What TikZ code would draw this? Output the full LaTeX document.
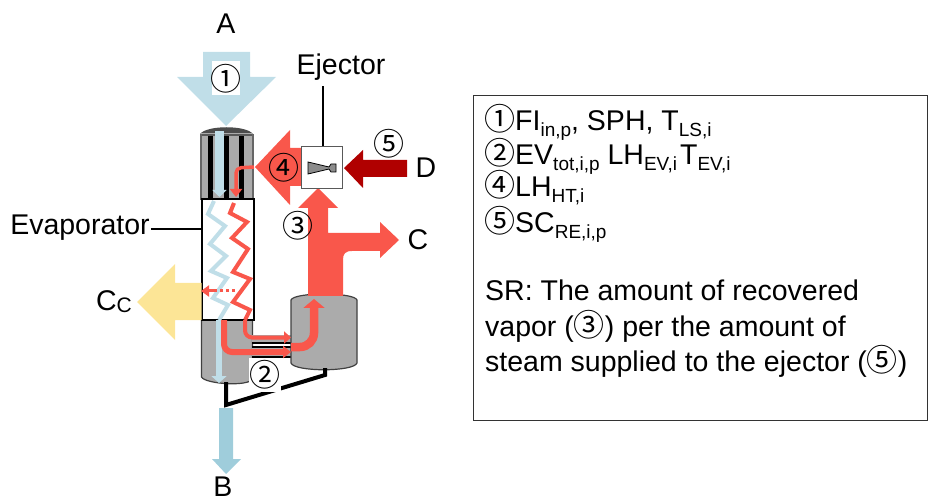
\documentclass[tikz,border=0pt]{standalone}
\usepackage{fontspec}
\setmainfont{Liberation Sans}
\newfontfamily\circfont{Noto Sans CJK JP}
\usetikzlibrary{arrows.meta}
\definecolor{redf}{HTML}{F9574B}
\definecolor{darkr}{HTML}{B00000}
\definecolor{lblue}{HTML}{C0DEE8}
\definecolor{mblue}{HTML}{9FCDDB}
\definecolor{yell}{HTML}{FCE596}
\definecolor{vgray}{HTML}{ABABAB}
\newcommand{\ci}[1]{{\circfont\fontsize{31}{31}\selectfont #1}}
\newcommand{\lowsub}[1]{\raisebox{-5.5pt}{\fontsize{19}{19}\selectfont #1}}
\tikzset{
 lab/.style={font=\fontsize{28.5}{28.5}\selectfont,inner sep=0pt},
 txt/.style={font=\fontsize{28.5}{28.5}\selectfont,inner sep=0pt,anchor=base west},
 num/.style={inner sep=0pt},
 vessel/.style={fill=vgray,draw=black!75,line width=1.2pt},
 zig/.style={line width=4pt,line join=miter},
 blackpipe/.style={line width=4pt,black},
}
\begin{document}
\begin{tikzpicture}[x=1pt,y=-1pt]
\useasboundingbox (0,0) rectangle (928,502);
% info box
\draw[line width=1pt,black!80] (473,96) rectangle (927.5,420);
% A arrow
\fill[lblue] (203,52)--(250,52)--(250,77)--(276,77)--(226,126)--(177,77)--(203,77)--cycle;
\node[num,fill=white,minimum width=28pt,minimum height=34pt] (n1) at (226,78) {};
\node[num] (n1t) at (226,79) {\ci{①}};
\node[lab] (A) at (226,24) {A};
% evaporator top
\fill[black!70] (200,134) .. controls (207,125) and (246,125) .. (253,134) -- cycle;
\fill[vgray] (201,133) rectangle (253,200);
\fill[black!65] (200,134) rectangle (253,136);
\fill[black!60] (200,134) rectangle (202,200);
\fill[black!60] (252,134) rectangle (254,200);
\foreach \x in {208,224,239}{\fill[black] (\x,136) rectangle +(5,64);}
% lower drum
\draw[vessel] (201.5,320) -- (201.5,377) .. controls (205,384) and (248,387) .. (252.5,379) -- (252.5,320) -- cycle;
% evaporator body
\node[draw=black,line width=1.2pt,fill=white,minimum width=52pt,minimum height=121pt,inner sep=0pt] (evap) at (228,259.5) {};
% Cc arrow
\fill[yell] (201.5,283)--(175,283)--(175,264)--(137,302)--(175,340)--(175,320)--(201.5,320)--cycle;
\node[lab] (Cc) at (114,302) {C{\fontsize{21}{21}\selectfont\raisebox{-2pt}{C}}};
% pipes
\fill[vgray] (252,335) rectangle (292,342);
\fill[vgray] (252,347.5) rectangle (292,356);
\fill[black] (252,342) rectangle (292,343.5);
\fill[black] (252,346) rectangle (292,347.5);
\fill[black] (252,356) rectangle (292,357.5);
% right vessel
\draw[vessel] (291,300) .. controls (294,292) and (354,292) .. (357,300) -- (357,363) .. controls (354,372) and (294,372) .. (291,363) -- cycle;
% red main
\fill[redf] (318,188)--(338,208)--(328,208)--(328,233)--(380,233)--(380,222)--(399,240)--(380,258)--(380,251)--(352,251).. controls (345,251) and (343,254) .. (343,260) --(343,296)--(308,296)--(308,208)--(298,208)--cycle;
% arrow 4
\fill[redf] (255,167)--(290,130)--(290,148)--(303,148)--(303,186)--(290,186)--(290,205)--cycle;
% ejector
\node[draw=black!65,line width=1.5pt,fill=white,minimum width=41pt,minimum height=42pt,inner sep=0pt] (ej) at (322,167.5) {};
\draw[fill=black!45,line width=.8pt] (308,162)--(329,167)--(331,164)--(336,164)--(336,172)--(331,172)--(329,169)--(308,174)--cycle;
% D arrow
\fill[darkr] (344,168)--(363,150)--(363,160)--(407,160)--(407,177)--(363,177)--(363,188)--cycle;
% zigzags
\draw[lblue,zig] (214,201)--(208,214)--(225,226)--(210,244)--(226,256)--(211,271)--(227,278)--(213,298)--(228,305)--(219,320);
\draw[redf,zig] (234,203)--(230,213)--(247,222)--(232,238)--(248,249)--(233,272)--(250,279)--(233,302)--(250,310)--(245,320);
% blue arrows down
\draw[lblue,line width=9pt,-{Triangle[length=7pt,width=14pt]}] (219.5,131) -- (219.5,197);
\draw[lblue,line width=6pt,-{Triangle[length=7pt,width=15pt]}] (219,320) -- (219,383);
% red flows
\draw[redf,line width=3.5pt,-{Triangle[length=8pt,width=12pt]},rounded corners=5pt] (254,167) -- (236,168) -- (236,197);
\draw[redf,line width=4pt,-{Triangle[length=7pt,width=12pt]},rounded corners=7pt] (245,320) -- (245,337.5) -- (291,337.5);
\draw[redf,line width=6pt,-{Triangle[length=8pt,width=12pt]},rounded corners=8pt] (224,320) -- (224,352) -- (291,352);
\draw[redf,line width=8.5pt,-{Triangle[length=9pt,width=21pt]},rounded corners=14pt] (291,347) -- (314,347) -- (314,299);
\draw[redf,line width=3pt,dash pattern=on 3pt off 3pt] (235,291) -- (212,291);
\draw[redf,line width=3pt,-{Triangle[length=8pt,width=11pt]}] (214,291) -- (201,291);
% drain
\draw[blackpipe,line join=miter] (226,382) -- (226,405) -- (325,375) -- (325,368);
% B arrow
\fill[mblue] (219,408)--(233,408)--(233,459)--(241,459)--(226,474)--(212,459)--(219,459)--cycle;
% labels
\node[num,fill=white,minimum width=32pt,minimum height=34pt] (n2bg) at (265,375) {};
\node[num] (n2) at (265,375) {\ci{②}};
\node[num] (n3) at (298,226) {\ci{③}};
\node[num] (n4) at (284,168) {\ci{④}};
\node[num] (n5) at (389,144) {\ci{⑤}};
\node[lab] (B) at (223,487) {B};
\node[lab] (C) at (418,240) {C};
\node[lab] (D) at (426,168) {D};
\node[lab] (ejl) at (341,67) {Ejector};
\node[lab] (evl) at (80,228) {Evaporator};
\draw[line width=1.3pt] (ej.north) ++(1,0) -- (323,86);
\draw[line width=1.3pt] (evl.east) ++(1,1) -- (evap.west |- 0,229);
% right text
\node[txt] (t1) at (484,131) {\ci{①}FI\lowsub{in,p}, SPH, T\lowsub{LS,i}};
\node[txt] (t2) at (484,165) {\ci{②}EV\lowsub{tot,i,p} LH\lowsub{EV,i}\hspace{3pt}T\lowsub{EV,i}};
\node[txt] (t3) at (484,197) {\ci{④}LH\lowsub{HT,i}};
\node[txt] (t4) at (484,233) {\ci{⑤}SC\lowsub{RE,i,p}};
\node[txt] (t5) at (485,301) {SR: The amount of recovered};
\node[txt] (t6) at (485,336) {vapor (\ci{③}) per the amount of};
\node[txt] (t7) at (485,371) {steam supplied to the ejector (\ci{⑤})};
\end{tikzpicture}
\end{document}
